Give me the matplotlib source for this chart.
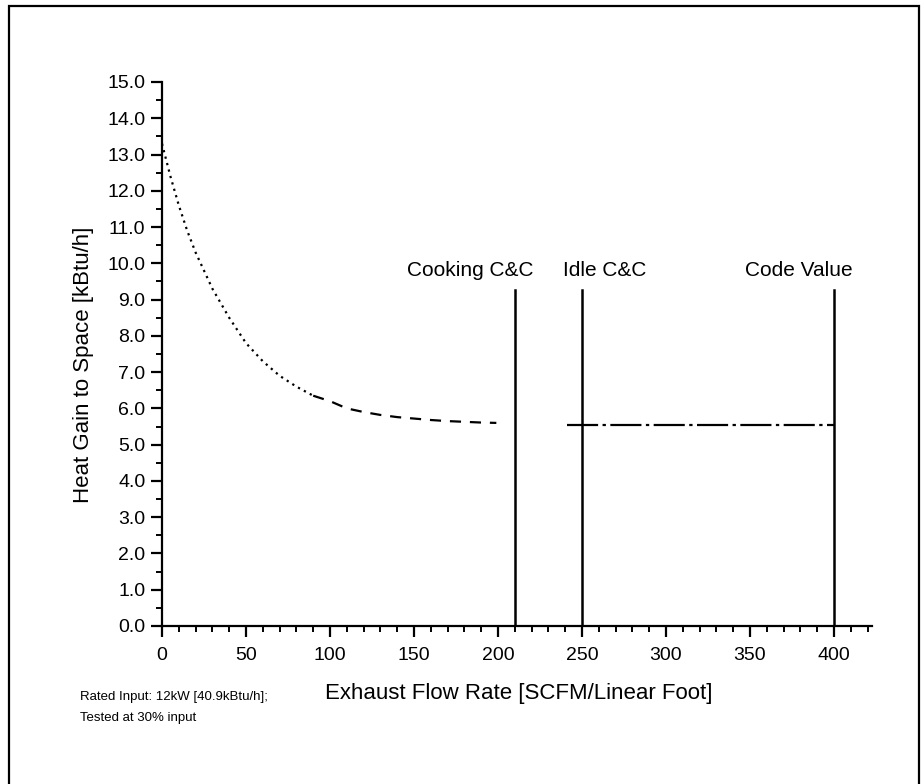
import matplotlib
matplotlib.use('Agg')
import matplotlib.pyplot as plt
from matplotlib.patches import Rectangle
from matplotlib.ticker import MultipleLocator, FormatStrFormatter

plt.rcParams['font.family'] = ['Liberation Sans', 'DejaVu Sans']

# heat gain curve
flow = [0, 5, 10, 15, 20, 25, 30, 40, 50, 60, 70, 80, 90]
heat = [13.3, 12.4, 11.6, 10.9, 10.3, 9.8, 9.3, 8.5, 7.8, 7.3, 6.9, 6.6, 6.35]
flow_tail = [90, 100, 110, 120, 130, 140, 150, 160, 170, 180, 190, 199]
heat_tail = [6.35, 6.2, 6.0, 5.9, 5.82, 5.76, 5.72, 5.68, 5.65, 5.63, 5.61, 5.6]
flat_flow = [241, 400]
flat_heat = [5.54, 5.54]

markers = [210, 250, 400]
marker_top = 9.26
marker_labels = ['Cooking C&C', 'Idle C&C', 'Code Value']
marker_label_x = [183.5, 263.5, 379]
marker_label_y = 9.79

fig = plt.figure(figsize=(9.24, 7.84), dpi=100)
ax = fig.add_axes([162 / 924, 1 - 626 / 784, 710 / 924, 544 / 784])

ax.plot(flow, heat, color='black', lw=1.6, linestyle=(0, (1, 2)))
ax.plot(flow_tail, heat_tail, color='black', lw=1.6, linestyle=(0, (5, 4)))
ax.plot(flat_flow, flat_heat, color='black', lw=1.6, linestyle=(0, (14, 2, 1.5, 2)))

for x, lab, lx in zip(markers, marker_labels, marker_label_x):
    ax.plot([x, x], [0, marker_top], color='black', lw=1.8)
    ax.text(lx, marker_label_y, lab, ha='center', va='center', fontsize=15)

ax.set_xlim(0, 422.6)
ax.set_ylim(0, 15)
ax.spines['top'].set_visible(False)
ax.spines['right'].set_visible(False)
ax.spines['left'].set_linewidth(1.6)
ax.spines['bottom'].set_linewidth(1.6)

ax.xaxis.set_major_locator(MultipleLocator(50))
ax.xaxis.set_minor_locator(MultipleLocator(10))
ax.yaxis.set_major_locator(MultipleLocator(1))
ax.yaxis.set_minor_locator(MultipleLocator(0.5))
ax.yaxis.set_major_formatter(FormatStrFormatter('%.1f'))
ax.tick_params(which='major', direction='out', length=8, width=1.6, labelsize=14)
ax.tick_params(which='minor', direction='out', length=4, width=1.4)
ax.tick_params(axis='x', which='major', pad=7)
ax.tick_params(axis='y', which='major', pad=4)

fig.text(519 / 924, 1 - 694 / 784, 'Exhaust Flow Rate [SCFM/Linear Foot]',
         ha='center', va='center', fontsize=16)
fig.text(84 / 924, 1 - 365 / 784, 'Heat Gain to Space [kBtu/h]',
         ha='center', va='center', rotation=90, fontsize=16)

fig.text(80 / 924, 1 - 697 / 784, 'Rated Input: 12kW [40.9kBtu/h];',
         ha='left', va='center', fontsize=9.5)
fig.text(80 / 924, 1 - 718 / 784, 'Tested at 30% input',
         ha='left', va='center', fontsize=9.5)

# outer frame
fig.patches.append(Rectangle((9 / 924, -0.05), 910 / 924, 1.05 - 6 / 784,
                             transform=fig.transFigure, fill=False,
                             edgecolor='black', lw=1.6))

fig.savefig('out.png', dpi=100)
